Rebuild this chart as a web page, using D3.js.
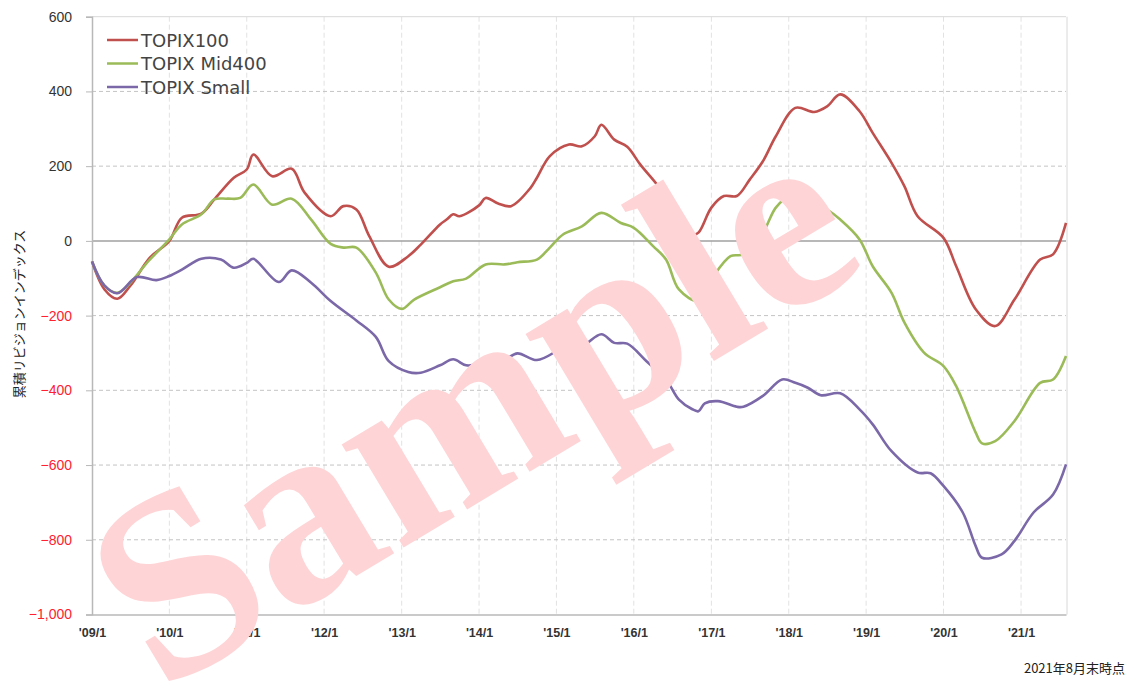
<html>
<head>
<script type="text/javascript" src="https://cdnjs.cloudflare.com/ajax/libs/d3/7.8.5/d3.min.js"></script>
<style type="text/css">
  body{ margin:0; background:#fff; }
  svg{ font-family:"DejaVu Sans", Verdana, sans-serif; }
  .yaxis text{ font-size:14px; }
  .xaxis text{ font-size:12.5px; font-weight:bold; fill:#333; }
  .legendLabel{ font-size:18px; fill:#444; }
</style>
</head>
<body>
<div id="chart"></div>
<script type="text/javascript">
// cumulative revision index (month, value)
let topix100=[
  ["2009-01",-55],["2009-03",-130],["2009-05",-155],["2009-07",-120],["2009-10",-45],
  ["2010-01",0],["2010-03",62],["2010-06",73],["2010-08",111],["2010-11",169],
  ["2011-01",191],["2011-02",231],["2011-05",173],["2011-08",193],["2011-10",129],
  ["2012-02",66],["2012-04",93],["2012-06",84],["2012-08",13],["2012-11",-69],
  ["2013-02",-41],["2013-04",-10],["2013-07",44],["2013-08",57],["2013-09",71],["2013-10",66],
  ["2014-01",95],["2014-02",115],["2014-04",100],["2014-06",93],["2014-09",142],["2014-10",169],["2014-12",227],
  ["2015-03",258],["2015-05",253],["2015-07",280],["2015-08",311],["2015-10",271],["2015-12",252],
  ["2016-02",204],["2016-05",142],["2016-07",84],["2016-09",17],["2016-10",14],["2016-11",22],
  ["2017-01",89],["2017-03",120],["2017-05",120],["2017-07",164],["2017-09",213],["2017-11",280],
  ["2018-02",356],["2018-05",345],["2018-07",360],["2018-09",392],["2018-12",347],
  ["2019-02",289],["2019-05",209],["2019-07",146],["2019-09",66],
  ["2020-01",8],["2020-03",-68],["2020-06",-183],["2020-09",-228],["2020-12",-157],
  ["2021-04",-50],["2021-06",-36],["2021-08",48]
];
let mid400=[
  ["2009-01",-55],["2009-03",-120],["2009-05",-139],["2009-10",-50],
  ["2010-01",4],["2010-03",44],["2010-06",71],["2010-08",111],["2010-10",113],["2010-12",115],
  ["2011-02",151],["2011-05",97],["2011-08",113],["2011-11",57],
  ["2012-02",-8],["2012-04",-18],["2012-06",-18],["2012-09",-85],["2012-11",-157],
  ["2013-01",-182],["2013-03",-157],["2013-07",-124],["2013-09",-108],["2013-11",-101],
  ["2014-02",-63],["2014-05",-63],["2014-07",-57],["2014-10",-50],["2014-12",-18],
  ["2015-02",17],["2015-05",39],["2015-08",75],["2015-11",48],
  ["2016-01",35],["2016-04",-14],["2016-06",-50],["2016-08",-130],["2016-11",-161],
  ["2017-01",-103],["2017-04",-41],["2017-06",-36],["2017-09",22],["2017-11",89],
  ["2018-01",118],["2018-04",111],["2018-07",84],["2018-09",57],["2018-12",4],
  ["2019-02",-68],["2019-05",-139],["2019-07",-219],["2019-10",-299],
  ["2020-01",-335],["2020-03",-389],["2020-06",-513],["2020-07",-542],["2020-09",-536],["2020-12",-482],
  ["2021-04",-380],["2021-06",-371],["2021-08",-308]
];
let small=[
  ["2009-01",-55],["2009-03",-120],["2009-05",-140],["2009-08",-97],["2009-11",-105],
  ["2010-01",-94],["2010-03",-77],["2010-06",-48],["2010-09",-50],["2010-11",-72],
  ["2011-01",-59],["2011-02",-48],["2011-06",-110],["2011-08",-79],["2011-11",-112],
  ["2012-02",-161],["2012-06",-213],["2012-09",-257],["2012-11",-322],
  ["2013-02",-351],["2013-04",-353],["2013-07",-333],["2013-09",-317],["2013-11",-333],
  ["2014-01",-328],["2014-03",-310],["2014-05",-317],["2014-07",-301],["2014-10",-319],
  ["2015-01",-295],["2015-02",-283],["2015-05",-282],["2015-08",-250],["2015-10",-273],["2015-12",-275],
  ["2016-03",-322],["2016-06",-371],["2016-08",-425],["2016-10",-450],["2016-11",-456],["2016-12",-435],
  ["2017-02",-429],["2017-05",-444],["2017-06",-444],["2017-09",-415],["2017-12",-371],
  ["2018-02",-380],["2018-04",-393],["2018-06",-413],["2018-09",-408],["2018-12",-451],
  ["2019-02",-491],["2019-05",-563],["2019-09",-620],["2019-11",-622],
  ["2020-01",-656],["2020-04",-727],["2020-06",-817],["2020-07",-848],["2020-10",-839],["2020-12",-803],
  ["2021-03",-727],["2021-06",-679],["2021-08",-598]
];
let seriesNames=["TOPIX100","TOPIX Mid400","TOPIX Small"];
let seriesColors=["#c0504d","#9bbb59","#7b68a8"];
let yTicks=[600,400,200,0,-200,-400,-600,-800,-1000];
let xTickYears=[2009,2010,2011,2012,2013,2014,2015,2016,2017,2018,2019,2020,2021];
let yTitle="累積リビジョンインデックス";
let note="2021年8月末時点";

let containerDim={width:1131,height:682};
let plot={left:92,right:1066,top:16.7,bottom:614.5};

let parse=d3.timeParse("%Y-%m");

let svg=d3.select('#chart')
.append('svg')
.attr('width',containerDim.width)
.attr('height',containerDim.height);

let x=d3.scaleTime()
.domain([parse("2009-01"),parse("2021-08")])
.range([plot.left,plot.right]);

let y=d3.scaleLinear()
.domain([-1000,600])
.range([plot.bottom,plot.top]);

// vertical grid
svg.append('g').selectAll('line')
.data(xTickYears.slice(1))
.enter().append('line')
.attr('x1',d=>x(new Date(d,0,1))).attr('x2',d=>x(new Date(d,0,1)))
.attr('y1',plot.top).attr('y2',plot.bottom)
.attr('stroke','#e2e2e2').attr('stroke-dasharray','5,3');

// horizontal grid
svg.append('g').selectAll('line')
.data(yTicks.filter(d=>d!=-1000))
.enter().append('line')
.attr('x1',plot.left).attr('x2',plot.right)
.attr('y1',d=>y(d)).attr('y2',d=>y(d))
.attr('stroke',d=>d==0?'#a0a0a0':(d==600?'#d8d8d8':'#c4c4c4'))
.attr('stroke-width',d=>d==0?1.5:1)
.attr('stroke-dasharray',d=>(d==0||d==600)?null:'4,3');

// right border
svg.append('line')
.attr('x1',plot.right+1).attr('x2',plot.right+1)
.attr('y1',plot.top).attr('y2',plot.bottom)
.attr('stroke','#d8d8d8');

let yAxis=d3.axisLeft(y).tickValues(yTicks).tickSize(6).tickPadding(14).tickFormat(d3.format(","));
let gy=svg.append('g')
.attr('class','yaxis')
.attr('transform','translate('+plot.left+',0)')
.call(yAxis);
gy.select('.domain').attr('stroke','#b8b8b8').attr('stroke-width',1.5);
gy.selectAll('.tick line').attr('stroke','#b8b8b8');
gy.selectAll('.tick text').attr('fill',d=>d<0?'#ff2030':'#333');

let xAxis=d3.axisBottom(x)
.tickValues(xTickYears.map(d=>new Date(d,0,1)))
.tickSize(0).tickPadding(14)
.tickFormat(d3.timeFormat("'%y/1"));
let gx=svg.append('g')
.attr('class','xaxis')
.attr('transform','translate(0,'+plot.bottom+')')
.call(xAxis);
gx.select('.domain').attr('stroke','#b8b8b8').attr('stroke-width',1.5);

let line=d3.line()
.x(d=>x(parse(d[0])))
.y(d=>y(d[1]))
.curve(d3.curveCatmullRom.alpha(0.5));

[topix100,mid400,small].forEach((s,i)=>{
  svg.append('path')
  .datum(s)
  .attr('d',line)
  .attr('fill','none')
  .attr('stroke',seriesColors[i])
  .attr('stroke-width',2.6)
  .attr('stroke-linejoin','round');
});

// legend
let legend=svg.append('g').attr('class','legend');
seriesNames.forEach((n,i)=>{
  let ly=40+i*23.5;
  legend.append('line')
  .attr('x1',107).attr('x2',138).attr('y1',ly).attr('y2',ly)
  .attr('stroke',seriesColors[i]).attr('stroke-width',2.5);
  legend.append('text')
  .attr('class','legendLabel')
  .attr('x',141).attr('y',ly)
  .attr('dominant-baseline','central')
  .text(n);
});

svg.append('text')
.attr('transform','translate(24,314) rotate(-90)')
.attr('text-anchor','middle')
.attr('font-family','"Noto Sans CJK JP", sans-serif')
.attr('font-size',13)
.attr('fill','#222')
.text(yTitle);

svg.append('text')
.attr('x',1125).attr('y',673)
.attr('text-anchor','end')
.attr('font-family','"Noto Sans CJK JP", sans-serif')
.attr('font-size',13)
.attr('fill','#222')
.text(note);

// watermark
svg.append('text')
.attr('transform','translate(516,480) rotate(-31)')
.attr('text-anchor','middle')
.attr('font-family','"Liberation Serif", serif')
.attr('font-weight','bold')
.attr('font-size',262)
.attr('fill','#ffd4d6')
.text('Sample');
</script>
</body>
</html>
